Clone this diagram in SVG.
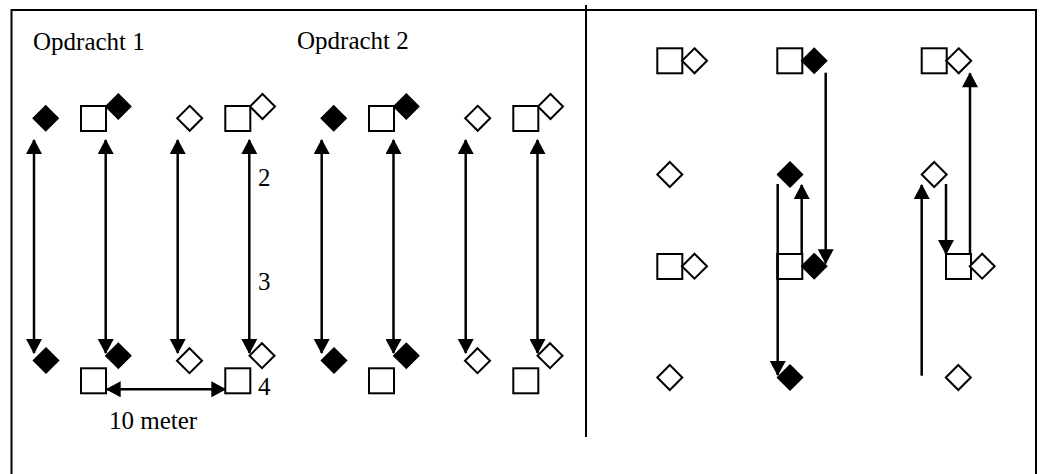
<svg xmlns="http://www.w3.org/2000/svg" width="1040" height="474" viewBox="0 0 1040 474">
<style>
.frame{fill:none;stroke:#000;stroke-width:2}
.sq{fill:#fff;stroke:#000;stroke-width:2}
.df{fill:#000;stroke:#000;stroke-width:1.5}
.do{fill:#fff;stroke:#000;stroke-width:2}
.arr{fill:none;stroke:#000;stroke-width:2.5;marker-end:url(#ah)}
.arr2{fill:none;stroke:#000;stroke-width:2.5;marker-start:url(#ah);marker-end:url(#ah)}
text{font-family:"Liberation Serif","Times New Roman",serif;font-size:25px;fill:#000}
</style>
<defs>
<marker id="ah" markerUnits="userSpaceOnUse" markerWidth="16" markerHeight="16" viewBox="0 0 15 16" refX="14" refY="8" orient="auto-start-reverse">
<path d="M0,0 L15,8 L0,16 z" fill="#000"/>
</marker>
<rect id="s" width="25" height="25"/>
<path id="d" d="M0,-12.5 L12.5,0 L0,12.5 L-12.5,0 z"/>
</defs>
<g id="frame">
<path class="frame" d="M11.5,474 V10 H1036 V474"/>
<line class="frame" x1="586" y1="5" x2="586" y2="437"/>
</g>
<g id="labels">
<text x="33" y="50">Opdracht 1</text>
<text x="297" y="49">Opdracht 2</text>
<text x="258" y="186">2</text>
<text x="258" y="290">3</text>
<text x="258" y="395">4</text>
<text x="109" y="429">10 meter</text>
</g>
<g id="opdracht1">
<use href="#d" class="df" x="45.7" y="118.3"/>
<use href="#s" class="sq" x="81" y="106"/>
<use href="#d" class="df" x="118.3" y="106.5"/>
<use href="#d" class="do" x="189.7" y="118.3"/>
<use href="#s" class="sq" x="225.3" y="106"/>
<use href="#d" class="do" x="262.5" y="106.5"/>
<use href="#d" class="df" x="46" y="360.5"/>
<use href="#d" class="df" x="118.3" y="355.7"/>
<use href="#d" class="do" x="189.5" y="360.7"/>
<use href="#d" class="do" x="262" y="355.7"/>
<use href="#s" class="sq" x="81" y="368.3"/>
<use href="#s" class="sq" x="225.3" y="368.3"/>
</g>
<g id="opdracht2">
<use href="#d" class="df" x="333.7" y="118.3"/>
<use href="#s" class="sq" x="369" y="106"/>
<use href="#d" class="df" x="406.3" y="106.5"/>
<use href="#d" class="do" x="477.7" y="118.3"/>
<use href="#s" class="sq" x="513.3" y="106"/>
<use href="#d" class="do" x="550.5" y="106.5"/>
<use href="#d" class="df" x="334" y="360.5"/>
<use href="#d" class="df" x="406.3" y="355.7"/>
<use href="#d" class="do" x="477.5" y="360.7"/>
<use href="#d" class="do" x="550" y="355.7"/>
<use href="#s" class="sq" x="369" y="368.3"/>
<use href="#s" class="sq" x="513.3" y="368.3"/>
</g>
<g id="right">
<use href="#s" class="sq" x="657.3" y="48.3"/>
<use href="#d" class="do" x="694.5" y="60.8"/>
<use href="#s" class="sq" x="777.3" y="48.3"/>
<use href="#d" class="df" x="814.2" y="60.8"/>
<use href="#s" class="sq" x="921.7" y="48.3"/>
<use href="#d" class="do" x="958.7" y="60.8"/>
<use href="#d" class="do" x="669.8" y="174.5"/>
<use href="#d" class="df" x="790" y="174.5"/>
<use href="#d" class="do" x="934.2" y="174.5"/>
<use href="#s" class="sq" x="657.3" y="254"/>
<use href="#d" class="do" x="694.5" y="266.2"/>
<use href="#s" class="sq" x="777.3" y="254"/>
<use href="#d" class="df" x="814.2" y="266.2"/>
<use href="#s" class="sq" x="946" y="254"/>
<use href="#d" class="do" x="982.2" y="266.2"/>
<use href="#d" class="do" x="669.8" y="377.5"/>
<use href="#d" class="df" x="790" y="377.5"/>
<use href="#d" class="do" x="958.3" y="377.5"/>
</g>
<g id="connectors">
<line class="arr2" x1="34" y1="140" x2="34" y2="353"/>
<line class="arr2" x1="105.7" y1="140" x2="105.7" y2="353"/>
<line class="arr2" x1="177.7" y1="140" x2="177.7" y2="353"/>
<line class="arr2" x1="249.3" y1="140" x2="249.3" y2="353"/>
<line class="arr2" x1="321.7" y1="140" x2="321.7" y2="353"/>
<line class="arr2" x1="393.5" y1="140" x2="393.5" y2="353"/>
<line class="arr2" x1="465.7" y1="140" x2="465.7" y2="353"/>
<line class="arr2" x1="537.5" y1="140" x2="537.5" y2="353"/>
<line class="arr2" x1="106.7" y1="389.3" x2="225.3" y2="389.3"/>
<line class="arr" x1="825.7" y1="72.7" x2="825.7" y2="263.3"/>
<line class="arr" x1="801.7" y1="254" x2="801.7" y2="185"/>
<line class="arr" x1="777.7" y1="184" x2="777.7" y2="375"/>
<line class="arr" x1="970" y1="254" x2="970" y2="73.3"/>
<line class="arr" x1="946" y1="184" x2="946" y2="254"/>
<line class="arr" x1="921.7" y1="375.7" x2="921.7" y2="185"/>
</g>
</svg>
